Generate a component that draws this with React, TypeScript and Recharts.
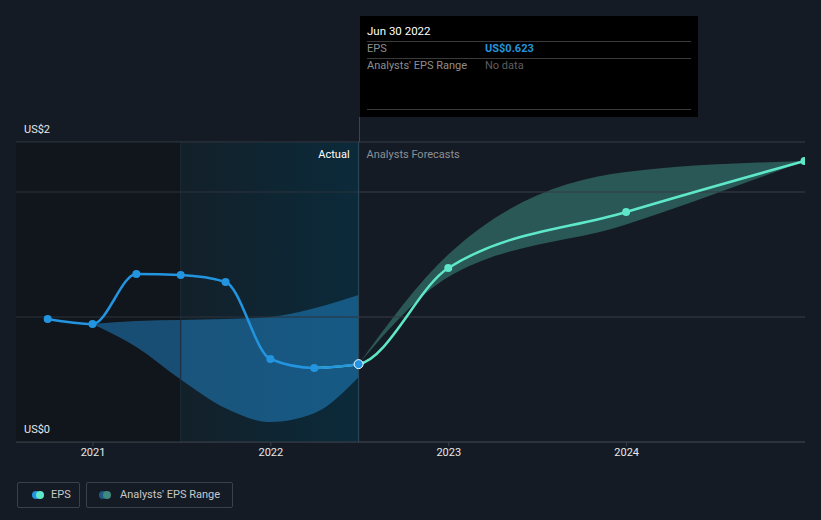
import React from "react";
import {
  ComposedChart,
  Line,
  Area,
  XAxis,
  YAxis,
  CartesianGrid,
  ReferenceArea,
  ReferenceLine,
} from "recharts";

// reported EPS (quarterly, trailing)
const actualDates = ["2020-09-30", "2020-12-31", "2021-03-31", "2021-06-30", "2021-09-30", "2021-12-31", "2022-03-31", "2022-06-30"];
const epsActual = [0.984, 0.944, 1.344, 1.336, 1.28, 0.664, 0.592, 0.623];
const rangeLowActual = [null, 0.944, 0.76, 0.5, 0.27, 0.16, 0.23, 0.52];
const rangeHighActual = [null, 0.944, 0.968, 0.976, 0.984, 1.0, 1.07, 1.176];

// analyst forecasts
const forecastDates = ["2022-06-30", "2022-12-31", "2023-12-31", "2024-12-31"];
const epsForecast = [0.623, 1.392, 1.84, 2.248];
const rangeLowForecast = [0.623, 1.32, 1.74, 2.248];
const rangeHighForecast = [0.623, 1.5, 2.16, 2.248];

const yearTicks = ["2021-01-01", "2022-01-01", "2023-01-01", "2024-01-01"];

const ts = (d: string) => Date.parse(d + "T00:00:00Z");
const X_MIN = ts("2020-07-27");
const X_MAX = ts("2025-01-01");
const SPLIT = ts("2021-06-30");
const NOW = ts("2022-06-30");

const rows: Record<number, any> = {};
const row = (d: string) => (rows[ts(d)] = rows[ts(d)] || { x: ts(d) });
actualDates.forEach((d, i) => {
  const r = row(d);
  r.eps = epsActual[i];
  if (rangeLowActual[i] != null) r.rangeA = [rangeLowActual[i], rangeHighActual[i]];
});
// forecast line continues from the reported series (previous quarter keeps the curve smooth)
row(actualDates[actualDates.length - 2]).epsF = epsActual[epsActual.length - 2];
forecastDates.forEach((d, i) => {
  const r = row(d);
  r.epsF = epsForecast[i];
  r.rangeF = [rangeLowForecast[i], rangeHighForecast[i]];
});
const data = Object.values(rows).sort((a: any, b: any) => a.x - b.x);

const BLUE = "#2394df";
const MINT = "#5ee8c9";
const GRID = "#2c333d";

const actualDot = (p: any) => {
  if (p.payload.eps == null) return <g key={p.index} />;
  const last = p.payload.x === NOW;
  return (
    <circle
      key={p.index}
      cx={p.cx}
      cy={p.cy}
      r={last ? 4.5 : 4}
      fill={BLUE}
      stroke={last ? "#ffffff" : "none"}
      strokeWidth={1}
    />
  );
};

const forecastDot = (p: any) => {
  if (p.payload.epsF == null || p.payload.x <= NOW) return <g key={p.index} />;
  return <circle key={p.index} cx={p.cx} cy={p.cy} r={4} fill={MINT} />;
};

const splitLabel = (props: any) => {
  const vb = props.viewBox || {};
  return (
    <g>
      <text x={vb.x - 9} y={vb.y + 16} textAnchor="end" fill="#ffffff" fontSize={11}>
        Actual
      </text>
      <text x={vb.x + 8} y={vb.y + 16} fill="#8b9097" fontSize={11}>
        Analysts Forecasts
      </text>
    </g>
  );
};

const font = "Roboto, 'Noto Sans', sans-serif";

export default function App() {
  return (
    <div
      style={{
        position: "absolute",
        left: 0,
        top: 0,
        width: 821,
        height: 520,
        background: "#151b24",
        fontFamily: font,
        overflow: "hidden",
      }}
    >
      <ComposedChart
        width={821}
        height={520}
        data={data}
        margin={{ top: 142, right: 16, bottom: 48, left: 16 }}
        style={{ fontFamily: font }}
      >
        <defs>
          <linearGradient id="tealBg" x1="0" y1="0" x2="1" y2="0">
            <stop offset="0%" stopColor="#13202a" />
            <stop offset="100%" stopColor="#0b2a3a" />
          </linearGradient>
        </defs>
        <ReferenceArea x1={X_MIN} x2={SPLIT} fill="#11151c" fillOpacity={1} ifOverflow="hidden" />
        <ReferenceArea x1={SPLIT} x2={NOW} fill="url(#tealBg)" fillOpacity={1} />
        <CartesianGrid vertical={false} stroke={GRID} />
        <XAxis
          dataKey="x"
          type="number"
          domain={[X_MIN, X_MAX]}
          allowDataOverflow
          ticks={yearTicks.map(ts)}
          tickFormatter={(v) => String(new Date(v).getUTCFullYear())}
          stroke="#3a414b"
          tick={{ fill: "#e8e8e8", fontSize: 11 }}
          tickSize={4}
          height={30}
        />
        <YAxis hide domain={[0, 2.4]} ticks={[0, 1, 2, 2.4]} />
        <ReferenceLine y={1} stroke={GRID} />
        <ReferenceLine y={2} stroke={GRID} />
        <ReferenceLine y={2.4} stroke={GRID} />
        <ReferenceLine x={SPLIT} stroke="#1a2c37" />
        <Area
          dataKey="rangeA"
          type="monotone"
          fill={BLUE}
          fillOpacity={0.45}
          stroke="none"
          isAnimationActive={false}
        />
        <Area
          dataKey="rangeF"
          type="monotone"
          fill={MINT}
          fillOpacity={0.3}
          stroke="none"
          isAnimationActive={false}
        />
        <ReferenceLine x={NOW} stroke="#2e4a5a" label={splitLabel} />
        <Line
          dataKey="epsF"
          type="monotone"
          stroke={MINT}
          strokeWidth={2.5}
          dot={forecastDot}
          activeDot={false}
          connectNulls
          isAnimationActive={false}
        />
        <Line
          dataKey="eps"
          type="monotone"
          stroke={BLUE}
          strokeWidth={2.5}
          dot={actualDot}
          activeDot={false}
          connectNulls
          isAnimationActive={false}
        />
      </ComposedChart>

      {/* y labels */}
      <div style={{ position: "absolute", left: 24, top: 123, color: "#e8e8e8", fontSize: 11 }}>US$2</div>
      <div style={{ position: "absolute", left: 24, top: 423, color: "#e8e8e8", fontSize: 11 }}>US$0</div>

      {/* cursor line above plot */}
      <div style={{ position: "absolute", left: 359, top: 117, width: 1, height: 25, background: "#2e4a5a" }} />

      {/* tooltip */}
      <div
        style={{
          position: "absolute",
          left: 360,
          top: 16,
          width: 338,
          height: 101,
          background: "#000000",
          fontSize: 11,
        }}
      >
        <div style={{ position: "absolute", left: 7, top: 8, color: "#ffffff", fontSize: 11.5 }}>Jun 30 2022</div>
        <div style={{ position: "absolute", left: 7, right: 7, top: 25, height: 1, background: "#3a3a3a" }} />
        <div style={{ position: "absolute", left: 7, top: 26, color: "#8e8e8e" }}>EPS</div>
        <div style={{ position: "absolute", left: 125, top: 26, color: BLUE, fontWeight: 700 }}>US$0.623</div>
        <div style={{ position: "absolute", left: 7, right: 7, top: 42, height: 1, background: "#3a3a3a" }} />
        <div style={{ position: "absolute", left: 7, top: 43, color: "#8e8e8e" }}>Analysts' EPS Range</div>
        <div style={{ position: "absolute", left: 125, top: 43, color: "#5e5e5e" }}>No data</div>
        <div style={{ position: "absolute", left: 7, right: 7, top: 93, height: 1, background: "#3a3a3a" }} />
      </div>

      {/* legend */}
      <div
        style={{
          position: "absolute",
          left: 17,
          top: 482,
          width: 63,
          height: 26,
          border: "1px solid #3a414b",
          borderRadius: 2,
          boxSizing: "border-box",
        }}
      >
        <div style={{ position: "absolute", left: 14, top: 8, width: 8, height: 8, borderRadius: 4, background: BLUE }} />
        <div style={{ position: "absolute", left: 18, top: 8, width: 8, height: 8, borderRadius: 4, background: MINT }} />
        <div style={{ position: "absolute", left: 33, top: 5, color: "#c8c8c8", fontSize: 11 }}>EPS</div>
      </div>
      <div
        style={{
          position: "absolute",
          left: 86,
          top: 482,
          width: 147,
          height: 26,
          border: "1px solid #3a414b",
          borderRadius: 2,
          boxSizing: "border-box",
        }}
      >
        <div style={{ position: "absolute", left: 12, top: 8, width: 8, height: 8, borderRadius: 4, background: "#1d5a85" }} />
        <div style={{ position: "absolute", left: 16, top: 8, width: 8, height: 8, borderRadius: 4, background: "#3f8a7c" }} />
        <div style={{ position: "absolute", left: 33, top: 5, color: "#c8c8c8", fontSize: 11 }}>Analysts' EPS Range</div>
      </div>
    </div>
  );
}
